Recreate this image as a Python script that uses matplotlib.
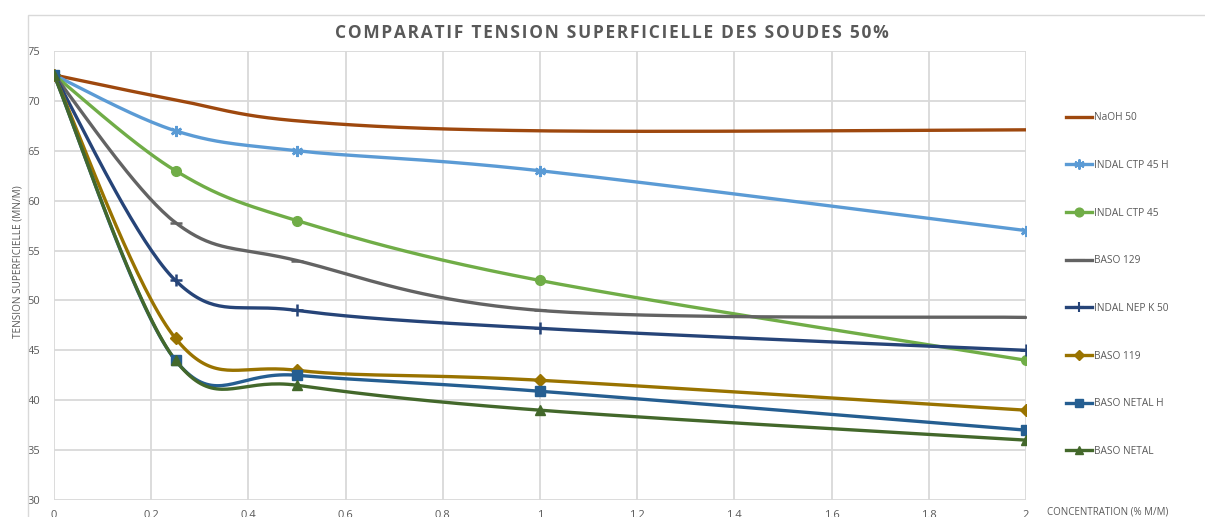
import matplotlib.pyplot as plt
import numpy as np

plt.rcParams['font.family'] = ['Open Sans', 'DejaVu Sans']

concentration = [0, 0.25, 0.5, 1, 2]
series_names = ['NaOH 50', 'INDAL CTP 45 H', 'INDAL CTP 45', 'BASO 129',
                'INDAL NEP K 50', 'BASO 119', 'BASO NETAL H', 'BASO NETAL']
naoh_50 = [72.6, 70.1, 68.0, 67.0, 67.1]
indal_ctp_45_h = [72.6, 67.0, 65.0, 63.0, 57.0]
indal_ctp_45 = [72.6, 63.0, 58.0, 52.0, 44.0]
baso_129 = [72.6, 57.8, 54.0, 49.0, 48.3]
indal_nep_k_50 = [72.6, 52.0, 49.0, 47.2, 45.0]
baso_119 = [72.6, 46.2, 43.0, 42.0, 39.0]
baso_netal_h = [72.6, 44.0, 42.5, 40.9, 37.0]
baso_netal = [72.6, 44.0, 41.5, 39.0, 36.0]

values = [naoh_50, indal_ctp_45_h, indal_ctp_45, baso_129,
          indal_nep_k_50, baso_119, baso_netal_h, baso_netal]
colors = ['#9E480E', '#5B9BD5', '#70AD47', '#636363',
          '#264478', '#997300', '#255E91', '#43682B']
markers = [None, (6, 2, 0), 'o', '_', '+', 'D', 's', '^']
msizes = [0, 8, 7, 9, 8, 6, 7, 7]


def smooth(x, y, n=40):
    # Excel-like smoothing: bezier with control points from neighbours (Catmull-Rom)
    p = np.column_stack([x, y]).astype(float)
    pts = [p[0]]
    for i in range(len(p) - 1):
        p0 = p[i - 1] if i > 0 else p[i]
        p1, p2 = p[i], p[i + 1]
        p3 = p[i + 2] if i + 2 < len(p) else p[i + 1]
        c1 = p1 + (p2 - p0) / 6
        c2 = p2 - (p3 - p1) / 6
        t = np.linspace(0, 1, n)[1:, None]
        b = ((1 - t) ** 3) * p1 + 3 * ((1 - t) ** 2) * t * c1 + 3 * (1 - t) * t ** 2 * c2 + t ** 3 * p2
        pts.extend(b)
    pts = np.array(pts)
    return pts[:, 0], pts[:, 1]


fig = plt.figure(figsize=(12.05, 5.17), dpi=100)
ax = fig.add_axes([54 / 1205, 17 / 517, (1026 - 54) / 1205, (500 - 51) / 517])

# chart border
fig.patches.append(plt.Rectangle((28 / 1205, -0.01), 1.0, (507 / 517), transform=fig.transFigure,
                                 fill=False, edgecolor='#D9D9D9', linewidth=1))

handles = []
for name, y, c, m, ms in zip(series_names, values, colors, markers, msizes):
    xs, ys = smooth(concentration, y)
    ax.plot(xs, ys, color=c, linewidth=2.4, solid_capstyle='round', zorder=3)
    if m is not None:
        ax.plot(concentration, y, linestyle='none', marker=m, markersize=ms, color=c,
                markeredgewidth=1.8 if m in ('+', '_', (6, 2, 0)) else 1, zorder=4)
    h, = ax.plot([], [], color=c, linewidth=2.4, marker=m, markersize=ms * 0.9,
                 markeredgewidth=1.5 if m in ('+', '_', (6, 2, 0)) else 1)
    handles.append(h)

ax.set_xlim(0, 2)
ax.set_ylim(30, 75)
ax.set_xticks(np.arange(0, 2.01, 0.2))
ax.set_xticklabels(['0', '0.2', '0.4', '0.6', '0.8', '1', '1.2', '1.4', '1.6', '1.8', '2'])
ax.set_yticks(np.arange(30, 76, 5))
ax.grid(True, color='#D9D9D9', linewidth=1.3)
ax.set_axisbelow(True)
for s in ax.spines.values():
    s.set_visible(False)
ax.tick_params(length=0, colors='#595959', labelsize=8, pad=7)
ax.tick_params(axis='y', pad=10)

title = 'COMPARATIF TENSION SUPERFICIELLE DES SOUDES 50%'
fig.text(612 / 1205, 1 - 33 / 517, '\u200a'.join(title),
         ha='center', va='center', fontsize=12.5, fontweight='bold', color='#595959')
fig.text(18 / 1205, 1 - 262 / 517, 'TENSION SUPERFICIELLE (MN/M)', rotation=90,
         ha='center', va='center', fontsize=7.2, color='#595959')
fig.text(1047 / 1205, 1 - 512 / 517, 'CONCENTRATION (% M/M)',
         ha='left', va='center', fontsize=7, color='#595959')

leg = fig.legend(handles, series_names, loc='upper left', bbox_to_anchor=(1057 / 1205, 1 - 103 / 517),
                 frameon=False, fontsize=7.3, labelcolor='#595959', handlelength=2.6,
                 handletextpad=0.15, labelspacing=3.62)

fig.savefig('out.png', dpi=100)
